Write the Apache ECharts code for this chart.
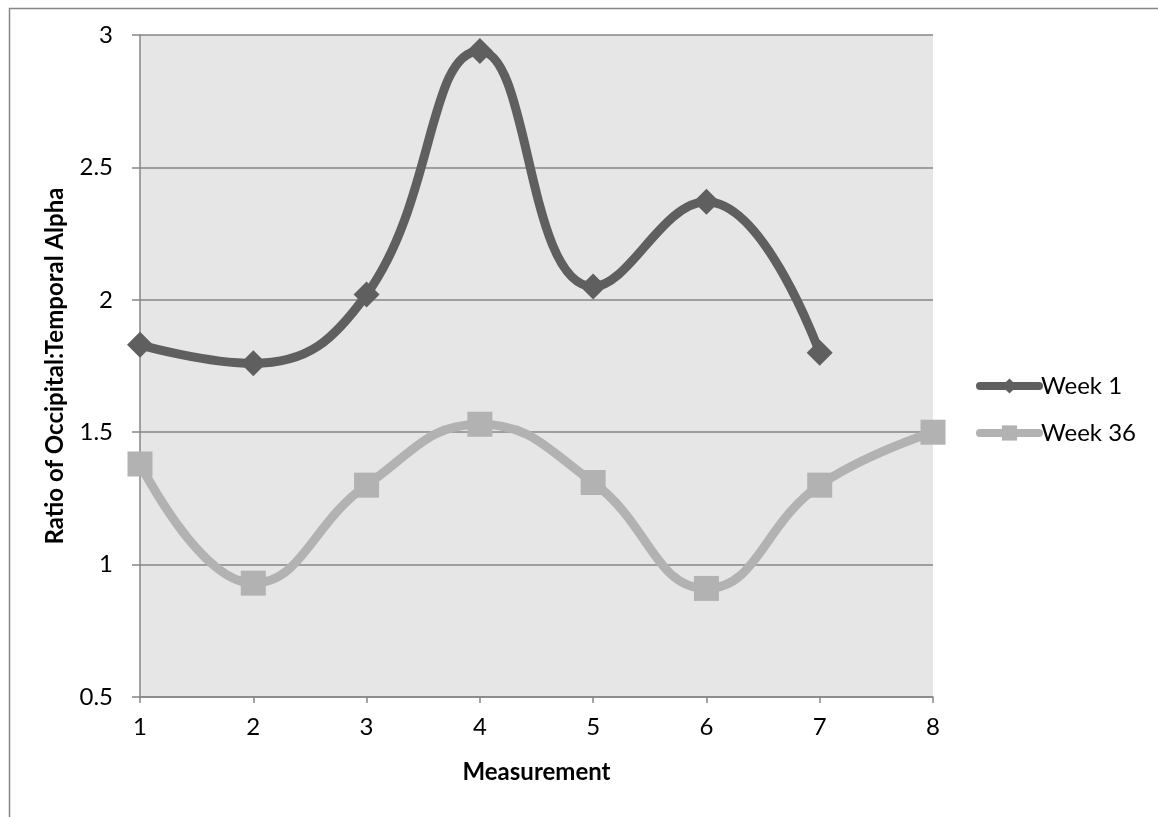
<!DOCTYPE html>
<html><head><meta charset="utf-8">
<script src="https://cdn.jsdelivr.net/npm/echarts@6/dist/echarts.min.js"></script>
<style>html,body{margin:0;padding:0;background:#fff}#c{width:1158px;height:817px}</style>
</head><body><div id="c"></div>
<script>
const measurements = [1, 2, 3, 4, 5, 6, 7, 8];
const week1 = [1.83, 1.76, 2.02, 2.94, 2.05, 2.37, 1.80];
const week36 = [1.38, 0.93, 1.30, 1.53, 1.31, 0.91, 1.30, 1.50];
const seriesNames = ['Week 1', 'Week 36'];
const yTicks = [0.5, 1, 1.5, 2, 2.5, 3];

const FONT = 'Lato';
const FS = 24;
const chart = echarts.init(document.getElementById('c'), null, {renderer: 'canvas'});
chart.setOption({
  animation: false,
  backgroundColor: '#ffffff',
  textStyle: {fontFamily: FONT},
  graphic: [{
    type: 'rect', left: 7, top: 6, z: -10,
    shape: {width: 1200, height: 900},
    style: {fill: 'none', stroke: '#868686', lineWidth: 1.5}
  }],
  grid: {left: 140, right: 225, top: 35, bottom: 120, show: true, backgroundColor: '#e6e6e6', borderWidth: 0},
  legend: {
    orient: 'vertical', left: 976, top: 374, itemGap: 23, padding: 0,
    itemWidth: 59, itemHeight: 19,
    textStyle: {fontFamily: FONT, fontSize: FS, color: '#000', padding: [0, 0, 0, -3]},
    data: [
      {name: seriesNames[0], lineStyle: {width: 8, cap: 'round', color: '#5f5f5f'}},
      {name: seriesNames[1], lineStyle: {width: 8, cap: 'round', color: '#b2b2b2'}}
    ]
  },
  xAxis: {
    type: 'value', min: 1, max: 8, interval: 1,
    name: 'Measurement', nameLocation: 'middle', nameGap: 63,
    nameTextStyle: {fontFamily: FONT, fontSize: FS, fontWeight: 'bold', color: '#000'},
    axisLine: {show: true, lineStyle: {color: '#868686', width: 1.5}},
    axisTick: {show: true, length: 6, lineStyle: {color: '#868686', width: 1.5}},
    axisLabel: {fontFamily: FONT, fontSize: FS, color: '#000', margin: 18,
      formatter: v => String(measurements[v - 1])},
    splitLine: {show: false}
  },
  yAxis: {
    type: 'value', min: 0.5, max: 3, interval: 0.5,
    name: 'Ratio of Occipital:Temporal Alpha', nameLocation: 'middle', nameGap: 73,
    nameTextStyle: {fontFamily: FONT, fontSize: FS, fontWeight: 'bold', color: '#000'},
    axisLine: {show: true, lineStyle: {color: '#868686', width: 1.5}},
    axisTick: {show: true, length: 8, lineStyle: {color: '#868686', width: 1.5}},
    axisLabel: {fontFamily: FONT, fontSize: FS, color: '#000', margin: 27,
      formatter: v => String(yTicks.find(t => Math.abs(t - v) < 1e-9) ?? v)},
    splitLine: {show: true, lineStyle: {color: '#868686', width: 1.5}}
  },
  series: [
    {
      name: seriesNames[0], type: 'line', smooth: 0.45,
      data: week1.map((v, i) => [measurements[i], v]),
      symbol: 'diamond', symbolSize: 26,
      lineStyle: {color: '#5f5f5f', width: 9},
      itemStyle: {color: '#5f5f5f'}
    },
    {
      name: seriesNames[1], type: 'line', smooth: 0.45,
      data: week36.map((v, i) => [measurements[i], v]),
      symbol: 'rect', symbolSize: 25,
      lineStyle: {color: '#b2b2b2', width: 9},
      itemStyle: {color: '#b2b2b2'}
    }
  ]
});
</script></body></html>
